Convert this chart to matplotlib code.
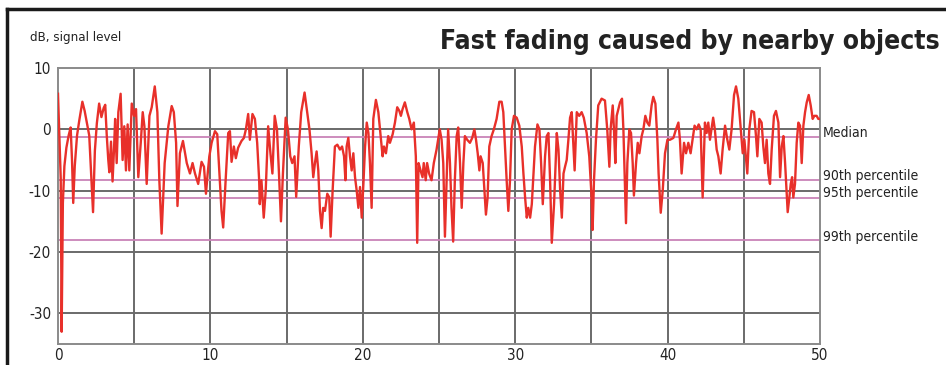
import matplotlib
matplotlib.use('Agg')
import matplotlib.pyplot as plt
from matplotlib.lines import Line2D
from matplotlib.transforms import blended_transform_factory

plt.rcParams['font.family'] = ['DejaVu Sans']
plt.rcParams['font.stretch'] = 'condensed'
plt.rcParams['axes.unicode_minus'] = False

# distance (x axis) and signal level in dB
dist = [0.0, 0.1, 0.18, 0.24, 0.32, 0.42, 0.55, 0.7, 0.83, 0.92, 1.0, 1.1, 1.25, 1.4, 1.6, 1.75,
        1.9, 2.05, 2.15, 2.3, 2.42, 2.55, 2.7, 2.85, 3.0, 3.1, 3.2, 3.3, 3.37, 3.48, 3.58, 3.68,
        3.75, 3.85, 3.96, 4.11, 4.24, 4.35, 4.46, 4.57, 4.68, 4.84, 4.99, 5.12, 5.27, 5.43, 5.56,
        5.67, 5.82, 6.0, 6.15, 6.35, 6.52, 6.65, 6.8, 7.0, 7.24, 7.46, 7.6, 7.75, 7.84, 8.0, 8.2,
        8.45, 8.66, 8.83, 8.99, 9.2, 9.42, 9.58, 9.71, 9.8, 9.93, 10.08, 10.3, 10.45, 10.58, 10.73,
        10.84, 11.0, 11.17, 11.28, 11.39, 11.54, 11.67, 11.82, 12.04, 12.2, 12.33, 12.48, 12.59,
        12.76, 12.92, 13.07, 13.2, 13.24, 13.35, 13.5, 13.63, 13.79, 13.94, 14.07, 14.22, 14.37,
        14.5, 14.63, 14.76, 14.94, 15.09, 15.24, 15.37, 15.52, 15.63, 15.8, 15.96, 16.18, 16.35,
        16.5, 16.64, 16.75, 16.86, 16.97, 17.08, 17.19, 17.3, 17.4, 17.52, 17.67, 17.8, 17.89,
        18.02, 18.17, 18.33, 18.5, 18.64, 18.77, 18.86, 18.94, 19.05, 19.16, 19.27, 19.38, 19.49,
        19.6, 19.71, 19.82, 19.93, 20.04, 20.15, 20.26, 20.37, 20.47, 20.58, 20.69, 20.86, 21.02,
        21.17, 21.3, 21.39, 21.52, 21.67, 21.78, 21.96, 22.11, 22.26, 22.4, 22.5, 22.61, 22.76,
        22.92, 23.05, 23.2, 23.35, 23.48, 23.57, 23.66, 23.79, 23.92, 24.0, 24.13, 24.22, 24.35,
        24.51, 24.66, 24.84, 25.05, 25.17, 25.28, 25.39, 25.5, 25.6, 25.72, 25.82, 25.93, 26.04,
        26.16, 26.26, 26.38, 26.49, 26.6, 26.7, 26.85, 27.03, 27.18, 27.32, 27.43, 27.54, 27.65,
        27.73, 27.87, 27.97, 28.08, 28.19, 28.3, 28.45, 28.6, 28.78, 28.96, 29.11, 29.22, 29.33,
        29.44, 29.55, 29.66, 29.77, 29.92, 30.1, 30.27, 30.43, 30.54, 30.65, 30.76, 30.86, 30.98,
        31.09, 31.2, 31.3, 31.46, 31.59, 31.7, 31.81, 31.96, 32.07, 32.18, 32.29, 32.4, 32.55,
        32.73, 32.84, 32.95, 33.06, 33.17, 33.27, 33.38, 33.49, 33.6, 33.71, 33.82, 33.9, 34.04,
        34.2, 34.36, 34.5, 34.69, 34.86, 35.0, 35.08, 35.17, 35.3, 35.45, 35.67, 35.89, 36.04,
        36.18, 36.26, 36.4, 36.48, 36.57, 36.66, 36.77, 36.88, 37.01, 37.1, 37.2, 37.27, 37.36,
        37.49, 37.6, 37.71, 37.79, 37.93, 38.04, 38.15, 38.3, 38.41, 38.54, 38.67, 38.8, 38.95,
        39.06, 39.2, 39.33, 39.41, 39.55, 39.68, 39.83, 39.99, 40.16, 40.38, 40.55, 40.71, 40.81,
        40.92, 41.08, 41.21, 41.36, 41.51, 41.64, 41.77, 41.9, 42.04, 42.17, 42.3, 42.45, 42.56,
        42.67, 42.78, 42.88, 42.99, 43.1, 43.22, 43.33, 43.48, 43.61, 43.77, 43.92, 44.05, 44.2,
        44.36, 44.49, 44.64, 44.8, 44.93, 45.04, 45.15, 45.23, 45.36, 45.51, 45.67, 45.8, 45.89,
        46.02, 46.17, 46.28, 46.39, 46.5, 46.61, 46.72, 46.83, 46.98, 47.11, 47.27, 47.38, 47.49,
        47.6, 47.71, 47.82, 47.88, 47.99, 48.08, 48.17, 48.25, 48.36, 48.47, 48.58, 48.69, 48.8,
        48.91, 49.02, 49.13, 49.26, 49.39, 49.52, 49.63, 49.78, 49.89, 50.0]

level = [5.8, -2, -8, -33, -12, -6, -3, -1, 0.3, -5, -12, -6, -1, 1.5, 4.5, 3,
         1, -1, -6, -13.5, -3.5, 1, 4.2, 2, 3.5, 4, -1, -5, -7, -2, -8.5, -3,
         1.7, -5.5, 2.8, 5.8, -5, 0.5, -6.7, 0.8, -6.7, 4.2, 2.2, 3.3, -7.8, -2.2, 2.8,
         0.5, -8.9, 2.2, 3.6, 7, 2.8, -8.3, -17, -5.5, 0.5, 3.8, 2.8, -2.2, -12.5, -3.9, -1.9,
         -5.5, -7.2, -5.5, -7.2, -8.9, -5.3, -6.1, -10.5, -7.8, -4.4, -2.2, -0.3, -0.8, -6.7, -13.3,
         -16, -8.3, -0.6, -0.3, -5.3, -2.8, -4.7, -3, -1.9, -1.4, 0, 2.5, -1.7,
         2.5, 1.7, -2.2, -8.3, -12.2, -8.3, -14.4, -10, 0.5, -3.9, -7.2, 2.2, 0,
         -7.2, -15, -7.2, 1.9, 0, -4.4, -5.5, -4.4, -11, -2.8, 2.8, 6, 2.8,
         0, -3.9, -7.8, -5.5, -3.6, -6.7, -13.3, -16.1, -12.8, -13.3, -10.5, -11.1, -17.5,
         -10, -2.8, -2.5, -3.3, -2.8, -4.4, -8.3, -2.8, -1.4, -4.4, -6.7, -3.9, -7.8,
         -10, -12.8, -9.4, -14.4, -8.9, -2.8, 1.1, -0.6, -5.5, -12.8, 1.7, 4.8, 2.8,
         -1.1, -4.4, -2.8, -3.9, -1.1, -2.2, -0.8, 1.1, 3.6, 3, 2.2, 3.3, 4.4,
         2.8, 1.7, 0, 1.1, -4.4, -18.5, -5.5, -6.7, -7.8, -5.5, -8.3, -5.5, -7.2,
         -8.3, -5.5, -3.3, 0, -1.7, -5.5, -17.5, -8.3, 0, -5.5, -12.8, -18.3, -8.3,
         -1.1, 0.3, -5.5, -12.8, -5.5, -1.1, -1.7, -2.2, -1.4, 0, -1.7, -3.9, -6.7,
         -4.4, -5.5, -9.4, -13.9, -11.1, -2.8, -1.1, 0, 1.7, 4.5, 4.5, 2.8, -2.8,
         -8.3, -13.3, -8.3, 0, 2.2, 1.9, 0.6, -2.8, -7.2, -11.1, -14.4, -12.8, -14.4,
         -12.2, -7.2, -2.8, 0.8, 0, -5.5, -12.2, -4.4, -1.1, -0.6, -8.3, -18.5, -12.2,
         -0.6, -3.3, -10, -14.4, -7.2, -6.1, -5, -1.7, 1.9, 2.8, -2.8, -6.7, 2.8,
         2.2, 2.8, 1.9, -0.6, -4.4, -10.5, -16.4, -8.3, -1.7, 3.9, 5, 4.7, 0,
         -6.1, 0, 3.9, 0, -5.5, 2.2, 3.3, 4.4, 5, 0, -8.9, -15.3, -5.5,
         0, -0.6, -5.5, -10.8, -5.5, -2.2, -3.9, -1.1, 0, 2.2, 1.1, 0.6, 3.9,
         5.3, 4.2, -1.7, -7.2, -13.6, -10, -3.9, -1.7, -1.7, -1.4, 0, 1.1, -1.7,
         -7.2, -2.2, -3.9, -2.2, -3.9, -1.7, 0.6, 0, 0.8, 0, -11.1, 1.1, -0.6,
         1.1, -1.7, 0, 1.9, 0, -3.3, -4.4, -7.2, -3.3, 0.6, -1.7, -3.3, 0,
         5.6, 7, 5, 0, -3.9, -1.7, -5, -7.2, 0, 3, 2.8, -1.1, -4.4,
         1.7, 1.1, -2.8, -5.5, -1.7, -7.2, -8.9, -3.3, 2.2, 3, 1.1, -7.8, -2.8,
         -1.1, -5.5, -10.5, -13.5, -11.1, -8.9, -7.8, -11.1, -8.9, -2.2, 1.1, 0.6, -5.5,
         0.6, 2.8, 4.4, 5.6, 3.9, 1.7, 2.2, 2.2, 1.7, 1.7]

# percentile lines and their labels
pct_names = ['Median', '90th percentile', '95th percentile', '99th percentile']
pct_levels = [-1.2, -8.3, -11.2, -18.0]
label_pos = [-0.6, -7.6, -10.4, -17.6]

fig = plt.figure(figsize=(9.46, 3.65), dpi=100)
ax = fig.add_axes([0.0613, 0.0575, 0.8055, 0.7562])

ax.set_xlim(0, 50)
ax.set_ylim(-35, 10)

# grid
for gx in range(5, 50, 5):
    ax.axvline(gx, color='#6a6a6a', lw=1.4, zorder=1)
for gy in [0, -10, -20, -30]:
    ax.axhline(gy, color='#6a6a6a', lw=1.4, zorder=1)

for lv in pct_levels:
    ax.axhline(lv, color='#c983b8', lw=1.3, zorder=2)

ax.plot(dist, level, color='#e8302a', lw=1.7, zorder=3)

ax.set_xticks([0, 10, 20, 30, 40, 50])
ax.set_yticks([10, 0, -10, -20, -30])
ax.tick_params(length=0, labelsize=11, colors='#222222')
ax.tick_params(axis='x', pad=3)
ax.tick_params(axis='y', pad=5)
for sp in ax.spines.values():
    sp.set_color('#8a8a8a')
    sp.set_linewidth(1.4)

tr = blended_transform_factory(ax.transAxes, ax.transData)
for name, yy in zip(pct_names, label_pos):
    ax.text(1.004, yy, name, transform=tr, ha='left', va='center', fontsize=10,
            color='#222222', clip_on=False)

fig.text(30 / 946, 1 - 37 / 365, 'dB, signal level', ha='left', va='center',
         fontsize=9.5, color='#222222')
fig.text(940 / 946, 1 - 42 / 365, 'Fast fading caused by nearby objects', ha='right',
         va='center', fontsize=19, fontweight='bold', color='#222222')

# black frame at the top and left
fig.add_artist(Line2D([7 / 946, 7 / 946], [0, 1 - 9 / 365], transform=fig.transFigure,
                      color='#1a1a1a', lw=2.5))
fig.add_artist(Line2D([7 / 946, 1], [1 - 9 / 365, 1 - 9 / 365], transform=fig.transFigure,
                      color='#1a1a1a', lw=2.5))

fig.savefig('out.png', dpi=100)
